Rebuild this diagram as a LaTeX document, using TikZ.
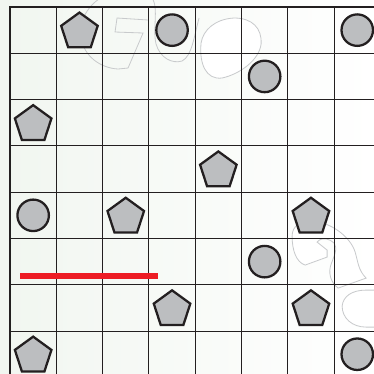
\documentclass[tikz,border=0pt]{standalone}
\usepackage{xcolor}
\usepackage{tikz}
\usetikzlibrary{shapes.geometric}
\definecolor{ink}{RGB}{35, 31, 32}
\definecolor{token}{RGB}{188, 190, 192}
\definecolor{marker}{RGB}{237, 28, 36}
\definecolor{paper}{RGB}{241, 246, 240}
\definecolor{ghost}{RGB}{200, 202, 204}

\begin{document}
\begin{tikzpicture}[
  pent/.style={regular polygon, regular polygon sides=5, draw=ink, fill=token, line width=1.4pt, inner sep=0pt, minimum size=0.83cm, yshift=-1pt},
  disc/.style={circle, draw=ink, fill=token, line width=1.4pt, inner sep=0pt, minimum size=0.68cm},
  gridline/.style={ink, line width=0.65pt},
  swirl/.style={ghost, line width=0.5pt}]
\useasboundingbox (-0.216,0.151) rectangle (7.862,-7.927);
\clip (-0.216,0.151) rectangle (7.862,-7.927);

% Background
\fill[left color=paper, right color=white] (-0.216,0.151) rectangle (7.862,-7.927);

% Swirls
\begin{scope}[shift={(-0.216cm,0.151cm)}, x=0.0216cm, y=-0.0216cm]
\draw[swirl] (104,-4) .. controls (88,4) and (78,22) .. (81,38) .. controls (84,56) and (100,68) .. (118,69) -- (128,68) -- (143,33) -- (115,32) -- (117,18) -- (148,20);
\draw[swirl] (150,-4) .. controls (160,4) and (152,28) .. (156,44) .. controls (160,58) and (172,64) .. (182,61) .. controls (192,56) and (194,36) .. (199,18);
\draw[swirl, fill=white] (201,43) .. controls (203,30) and (215,19) .. (234,18) .. controls (252,18) and (262,28) .. (261,44) .. controls (259,60) and (240,74) .. (222,78) .. controls (206,80) and (199,64) .. (201,43) -- cycle;
\draw[swirl, fill=white] (292,236) .. controls (292,226) and (300,221) .. (312,221) .. controls (330,222) and (350,236) .. (355,252) .. controls (358,262) and (358,270) .. (366,278) -- (338,288) .. controls (330,282) and (328,272) .. (331,264) .. controls (334,256) and (338,248) .. (334,243) .. controls (330,239) and (322,236) .. (317,242) -- (327,250) -- (327,257) -- (305,265) .. controls (296,262) and (292,250) .. (292,236) -- cycle;
\draw[swirl, fill=white] (380,290) -- (366,290) .. controls (352,290) and (343,296) .. (342,306) .. controls (342,318) and (352,327) .. (366,327) -- (380,327);
\end{scope}

% Board
\draw[gridline, step=1cm] (0,-8.5) grid (8.5,0);
\draw[ink, line width=1.8pt] (0,-8.5) -- (0,0) -- (8.5,0);

% Pentagons
\node[pent] (pent1) at (1.5,-0.5) {};
\node[pent] (pent2) at (0.5,-2.5) {};
\node[pent] (pent3) at (4.5,-3.5) {};
\node[pent] (pent4) at (2.5,-4.5) {};
\node[pent] (pent5) at (6.5,-4.5) {};
\node[pent] (pent6) at (3.5,-6.5) {};
\node[pent] (pent7) at (6.5,-6.5) {};
\node[pent] (pent8) at (0.5,-7.5) {};

% Circles
\node[disc] (disc1) at (3.5,-0.5) {};
\node[disc] (disc2) at (7.5,-0.5) {};
\node[disc] (disc3) at (5.5,-1.5) {};
\node[disc] (disc4) at (0.5,-4.5) {};
\node[disc] (disc5) at (5.5,-5.5) {};
\node[disc] (disc6) at (7.5,-7.5) {};

% Red bar
\coordinate (barstart) at (0.216,-5.81);
\coordinate (barend) at (3.196,-5.81);
\draw[marker, line width=3.2pt] (barstart) -- (barend);
\end{tikzpicture}
\end{document}
